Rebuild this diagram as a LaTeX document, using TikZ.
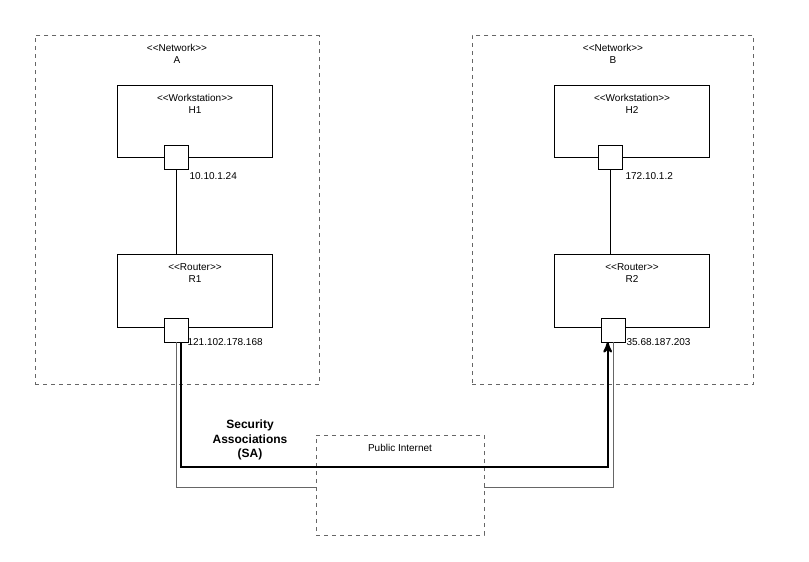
\documentclass[tikz,border=0pt]{standalone}
\usepackage{fontspec}
\setmainfont{Liberation Sans}
\usetikzlibrary{positioning, arrows}
\tikzset{box/.style={draw, thin, inner sep=0pt},
	net/.style={box, dashed, gray!80!black},
	port/.style={box, fill=white, minimum size=18pt},
	lbl/.style={font=\fontsize{7.5}{9}\selectfont, align=center, inner sep=1pt},
	addr/.style={lbl, anchor=west},
	sa/.style={line width=1.6pt, ->, >=stealth'}}
\newcommand{\stereo}[1]{{<}{<}#1{>}{>}}

\begin{document}
\begin{tikzpicture}[x=0.75pt, y=-0.75pt]
	\useasboundingbox (0,0) rectangle (809,561);
	% networks
	\node[net, minimum width=213pt, minimum height=262pt] (NetA) at (177,210) {};
	\node[lbl, below=6pt of NetA.north] {\stereo{Network}\\A};
	\node[net, minimum width=211pt, minimum height=262pt] (NetB) at (613,210) {};
	\node[lbl, below=6pt of NetB.north] {\stereo{Network}\\B};
	% workstations and routers
	\node[box, minimum width=116pt, minimum height=54pt] (H1) at (195,121) {};
	\node[lbl, below=6pt of H1.north] {\stereo{Workstation}\\H1};
	\node[box, minimum width=116pt, minimum height=55pt] (R1) at (195,291) {};
	\node[lbl, below=6pt of R1.north] {\stereo{Router}\\R1};
	\node[box, minimum width=116pt, minimum height=54pt] (H2) at (632,121) {};
	\node[lbl, below=6pt of H2.north] {\stereo{Workstation}\\H2};
	\node[box, minimum width=116pt, minimum height=55pt] (R2) at (632,291) {};
	\node[lbl, below=6pt of R2.north] {\stereo{Router}\\R2};
	% ports
	\node[port] (P1) at (176,157) {};
	\node[addr] at (188,176) {10.10.1.24};
	\node[port] (Q1) at (176,330) {};
	\node[addr] at (186,342) {121.102.178.168};
	\node[port] (P2) at (610,157) {};
	\node[addr] at (624,176) {172.10.1.2};
	\node[port] (Q2) at (613,330) {};
	\node[addr] at (625,342) {35.68.187.203};
	% internet
	\node[net, minimum width=126pt, minimum height=75pt] (Web) at (400,485) {};
	\node[lbl, below=6pt of Web.north] {Public Internet};
	% links
	\draw[thin] (P1) -- (P1 |- R1.north);
	\draw[thin] (P2) -- (P2 |- R2.north);
	\draw[thin, gray!80!black] (Q1.south) -- (176,487) -- (Web.west |- 0,487);
	\draw[thin, gray!80!black] (Web.east |- 0,487) -- (613,487) -- (Q2.south);
	\coordinate (SA1) at ([xshift=4pt]Q1.south);
	\coordinate (SA2) at ([xshift=-4pt]Q2.south);
	\draw[sa] (SA1) -- (SA1 |- 0,467) -- (SA2 |- 0,467) -- (SA2);
	\node[lbl, font=\fontsize{9}{11}\selectfont\bfseries] at (250,440) {Security\\Associations\\(SA)};
\end{tikzpicture}
\end{document}
